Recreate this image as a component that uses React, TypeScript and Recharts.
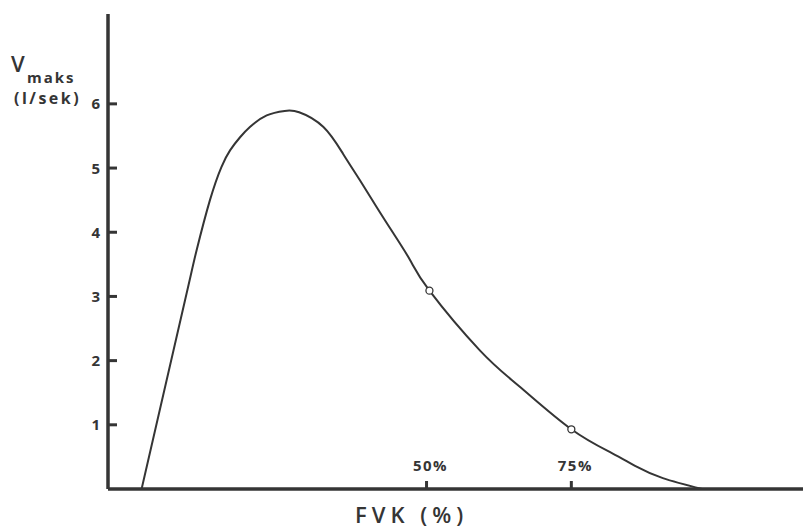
import React from "react";
import { ComposedChart, Line, Scatter, XAxis, YAxis } from "recharts";

// FVK (% of forced vital capacity) vs maximal flow (l/sek)
const fvk = [0.8, 8.3, 10.3, 12.6, 14.6, 16.1, 17.8, 19.5, 22.4, 25.5, 28, 32.2, 35.6, 38.5, 41.4, 44.3, 47.2, 50.5, 59.2, 66, 75, 82, 86, 90.8, 97.6];
const flow = [0, 2.94, 3.72, 4.5, 5.02, 5.28, 5.48, 5.64, 5.82, 5.89, 5.87, 5.64, 5.22, 4.81, 4.39, 3.98, 3.56, 3.09, 2.16, 1.6, 0.93, 0.56, 0.36, 0.17, 0];

const markerFvk = [50.5, 75];
const markerFlow = [3.09, 0.93];

const yTicks = [1, 2, 3, 4, 5, 6];
const xTicks = [50, 75];

const curve = fvk.map((x, i) => ({ x, y: flow[i] }));
const markers = markerFvk.map((x, i) => ({ x, y: markerFlow[i] }));

const ink = "#353535";
const font = "'Open Sans', sans-serif";
const axisX = 108;
const axisY = 489;

const YTick = (props: any) => {
  const { y, payload } = props;
  return (
    <g>
      <line x1={axisX} x2={axisX + 9} y1={y} y2={y} stroke={ink} strokeWidth={3} />
      <text x={axisX - 8} y={y} dy={5.5} textAnchor="end" fontSize={15} fontWeight={700} fill={ink} fontFamily={font}>
        {payload.value}
      </text>
    </g>
  );
};

const XTick = (props: any) => {
  const { x, payload } = props;
  return (
    <g>
      <line x1={x} x2={x} y1={axisY - 1} y2={axisY - 8} stroke={ink} strokeWidth={3} />
      <text x={x + 4} y={axisY - 18} textAnchor="middle" fontSize={15} fontWeight={700} fill={ink} fontFamily={font} letterSpacing={1.5}>
        {payload.value}%
      </text>
    </g>
  );
};

const Ring = (props: any) => (
  <circle cx={props.cx} cy={props.cy} r={3.5} fill="#fff" stroke={ink} strokeWidth={1.3} />
);

export default function App() {
  return (
    <div style={{ position: "absolute", left: 0, top: 0, width: 803, height: 528, background: "#fff" }}>
      <ComposedChart width={803} height={528} margin={{ top: 14, right: 0, bottom: 0, left: 68 }}>
        <XAxis
          type="number"
          dataKey="x"
          domain={[-5, 115]}
          ticks={xTicks}
          tick={<XTick />}
          tickSize={0}
          tickMargin={0}
          tickLine={false}
          axisLine={{ stroke: ink, strokeWidth: 3.5 }}
          height={39}
          allowDataOverflow
        />
        <YAxis
          type="number"
          dataKey="y"
          domain={[0, 7.4]}
          ticks={yTicks}
          tick={<YTick />}
          tickSize={0}
          tickMargin={0}
          tickLine={false}
          axisLine={{ stroke: ink, strokeWidth: 3.5 }}
          width={40}
          allowDataOverflow
        />
        <Line
          data={curve}
          dataKey="y"
          type="natural"
          stroke={ink}
          strokeWidth={2}
          dot={false}
          isAnimationActive={false}
        />
        <Scatter data={markers} dataKey="y" shape={<Ring />} isAnimationActive={false} />
      </ComposedChart>
      <svg width={803} height={528} style={{ position: "absolute", left: 0, top: 0, pointerEvents: "none" }}>
        <g fill={ink} fontFamily={font}>
          <text x={11} y={72} fontSize={22} fontWeight={600}>V</text>
          <text x={27} y={83} fontSize={15} fontWeight={700} letterSpacing={2}>maks</text>
          <text x={14} y={104} fontSize={16} fontWeight={700} letterSpacing={2.5}>(l/sek)</text>
          <text x={355} y={523} fontSize={22} fontWeight={600} letterSpacing={5}>FVK (%)</text>
        </g>
      </svg>
    </div>
  );
}
